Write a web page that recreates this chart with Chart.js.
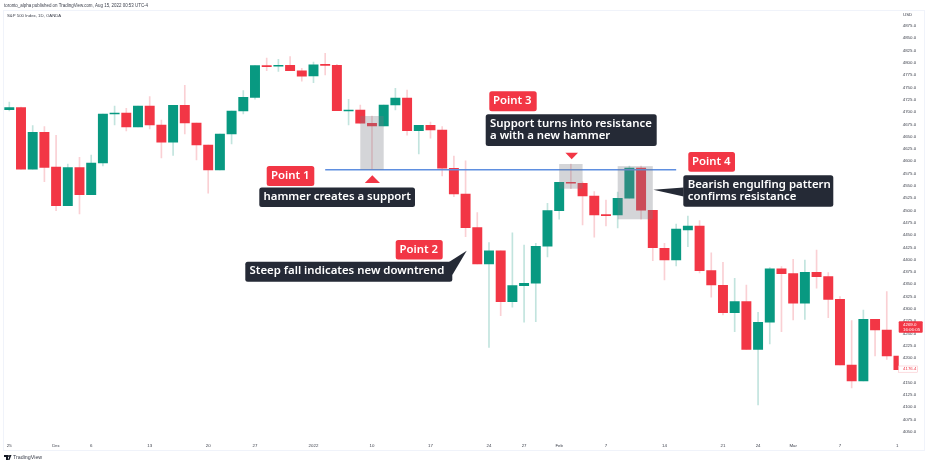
<!DOCTYPE html>
<html>
<head>
<meta charset="utf-8">
<style>
  html, body { margin: 0; padding: 0; background: #fff; }
  #wrap { position: relative; width: 928px; height: 464px; }
</style>
<script src="https://cdn.jsdelivr.net/npm/chart.js@4"></script>
</head>
<body>
<div id="wrap"><canvas id="chart" width="928" height="464"></canvas></div>
<script>
// daily candles, S&P 500
const openPrices = [4704.8, 4708.9, 4583.7, 4658.9, 4588.3, 4509.6, 4586.9, 4532, 4596.5, 4696.1, 4698.1, 4669.7, 4712.4, 4673.7, 4638.6, 4713.8, 4677.8, 4633, 4582.2, 4655.4, 4702.2, 4730, 4794.3, 4793.1, 4795.1, 4784.1, 4773.4, 4797.2, 4795.1, 4702.2, 4704.2, 4677.2, 4671.7, 4714.4, 4728.6, 4662.1, 4673.1, 4663.6, 4585.7, 4533.4, 4464.9, 4391.1, 4418.1, 4314.5, 4347, 4351.9, 4427.1, 4499.5, 4557.2, 4555.2, 4529.4, 4491.3, 4490.7, 4524.7, 4586.3, 4500.3, 4423, 4399.2, 4460.2, 4468.4, 4377.5, 4347.8, 4292.1, 4314.5, 4217.6, 4272.6, 4381.5, 4371.4, 4311.2, 4374.2, 4365.3, 4319.3, 4185.7, 4153.2, 4278.6, 4256.9, 4204];
const highPrices = [4720.5, 4710, 4672.3, 4670.3, 4652.8, 4594.4, 4608, 4612.7, 4696.1, 4712.4, 4707.7, 4712.4, 4731.3, 4683.9, 4713.8, 4754.5, 4677.8, 4633, 4655.4, 4702.2, 4743.5, 4794.3, 4810, 4807.3, 4812.6, 4789, 4801.8, 4819.5, 4797, 4726, 4714.4, 4692, 4714.4, 4748.3, 4744.9, 4673.1, 4679.8, 4670.3, 4610.7, 4601.1, 4495.4, 4434.4, 4418.1, 4454.7, 4429.7, 4433.2, 4514.5, 4557.2, 4594.4, 4558.4, 4538.1, 4521.2, 4537.5, 4590.4, 4590.4, 4500.3, 4433.2, 4472.4, 4488.7, 4479.2, 4414, 4394.6, 4362, 4348.4, 4292.9, 4383.6, 4385.6, 4400.6, 4399.2, 4419.6, 4373.4, 4324.6, 4275.8, 4297.6, 4278.6, 4334.8, 4204];
const lowPrices = [4702.2, 4583.7, 4583.7, 4558.4, 4499.5, 4509.6, 4492.8, 4532, 4590.4, 4673.7, 4661.5, 4669.7, 4665.6, 4606.6, 4612.1, 4655.4, 4602.6, 4534.9, 4582.2, 4635.1, 4696.1, 4726, 4784.1, 4782.9, 4784.1, 4762.6, 4759.7, 4775.4, 4702.8, 4673.7, 4677.2, 4583.7, 4671.7, 4704.2, 4652.8, 4614.8, 4646.7, 4570, 4527.9, 4446.6, 4391.1, 4221.7, 4286, 4303.1, 4272.6, 4273.8, 4405.3, 4482, 4544.2, 4470.4, 4445.4, 4468.4, 4464.3, 4524.7, 4482, 4397.8, 4358.6, 4387, 4426.3, 4372.8, 4323.4, 4287.4, 4253.4, 4217.6, 4104.4, 4228.4, 4253.4, 4277.2, 4278.6, 4341.7, 4281.9, 4185.7, 4139, 4153.2, 4204, 4197.3, 4176.4];
const closePrices = [4708.9, 4583.7, 4658.9, 4587.7, 4509.6, 4586.9, 4532, 4596.5, 4696.1, 4698.1, 4669.7, 4712.4, 4673.7, 4638.6, 4713.8, 4677.8, 4633, 4582.2, 4655.4, 4702.2, 4730, 4794.3, 4792.3, 4795.1, 4784.1, 4772.8, 4796.3, 4795.1, 4702.8, 4704.2, 4677.2, 4671.7, 4714.4, 4728.6, 4662.1, 4673.1, 4663.6, 4585.7, 4533.4, 4464.9, 4391.1, 4418.1, 4314.5, 4347, 4351.9, 4427.1, 4499.5, 4557.2, 4555.2, 4529.4, 4490.7, 4489.3, 4524.7, 4586.3, 4500.3, 4424.2, 4399.2, 4462.3, 4468.4, 4377.5, 4348.4, 4292.1, 4314.5, 4217.6, 4272.6, 4381.5, 4371.4, 4311.2, 4374.2, 4365.3, 4319.3, 4185.7, 4153.2, 4278.6, 4256.9, 4204, 4176.4];

const tickIndices = [0, 4, 7, 12, 17, 21, 26, 31, 36, 41, 44, 47, 51, 56, 61, 64, 67, 71, 75.9];
const tickLabels = ["25", "Dec", "6", "13", "20", "27", "2022", "10", "17", "24", "27", "Feb", "7", "14", "21", "24", "Mar", "7", "1"];

const supportStart = 27;
const supportEnd = 57;
const supportPrice = 4582.8;

// grey highlight zones: first candle, last candle, top price, bottom price
const zoneStarts = [30, 47, 52];
const zoneEnds = [32, 49, 55];
const zoneTops = [4692, 4594.4, 4590];
const zoneBottoms = [4582.8, 4544.2, 4482];

const RED = "#f23645";
const GREEN = "#089981";
const RED_WICK = "#fad0d4";
const GREEN_WICK = "#c2e4de";
const DARK = "#252a36";
const AXIS_TEXT = "#3a3e4a";
const LABEL_FONT = "600 11.4px 'Noto Sans'";

const isUp = openPrices.map((o, i) => closePrices[i] >= o);

function roundBox(ctx, x, y, w, h, r, color) {
  ctx.fillStyle = color;
  ctx.beginPath();
  ctx.roundRect(x, y, w, h, r);
  ctx.fill();
}

function tail(ctx, pts, color) {
  ctx.fillStyle = color;
  ctx.beginPath();
  pts.forEach((p, i) => i ? ctx.lineTo(p[0], p[1]) : ctx.moveTo(p[0], p[1]));
  ctx.closePath();
  ctx.fill();
}

// the text of one balloon, vertically centred on each given y
function balloonText(ctx, lines, x, ys) {
  ctx.font = LABEL_FONT;
  ctx.fillStyle = "#ffffff";
  ctx.textAlign = "left";
  ctx.textBaseline = "middle";
  lines.forEach((t, i) => ctx.fillText(t, x, ys[i]));
}

function smallText(ctx, text, x, y, color, font) {
  ctx.font = font || "4.4px 'Liberation Sans'";
  ctx.fillStyle = color || AXIS_TEXT;
  ctx.textAlign = "left";
  ctx.textBaseline = "middle";
  ctx.fillText(text, x, y);
}

const zonesPlugin = {
  id: "zones",
  afterDatasetsDraw(chart) {
    const { ctx, scales: { x, y } } = chart;
    ctx.save();
    ctx.fillStyle = "rgba(120,123,134,0.32)";
    zoneStarts.forEach((s, i) => {
      const left = x.getPixelForValue(s);
      const right = x.getPixelForValue(zoneEnds[i]);
      const top = y.getPixelForValue(zoneTops[i]);
      const bottom = y.getPixelForValue(zoneBottoms[i]);
      ctx.fillRect(left, top, right - left, bottom - top);
    });
    ctx.restore();
  }
};

const notesPlugin = {
  id: "notes",
  afterDraw(chart) {
    const { ctx } = chart;
    ctx.save();

    // frame
    ctx.strokeStyle = "#f0f3fa";
    ctx.lineWidth = 1;
    ctx.strokeRect(3.5, 10.5, 921, 440);

    // header and footer
    smallText(ctx, "toronto_alpha published on TradingView.com, Aug 15, 2022 00:53 UTC-4", 4, 5.6, AXIS_TEXT, "4.45px 'Liberation Sans'");
    smallText(ctx, "S&P 500 Index, 1D, OANDA", 7, 15.8, AXIS_TEXT, "4.3px 'Liberation Sans'");
    smallText(ctx, "TradingView", 13, 457.5, AXIS_TEXT, "5.3px 'Liberation Sans'");
    tail(ctx, [[4, 455], [8, 455], [8, 460], [6, 460], [6, 457], [4, 457]], "#131722");
    ctx.beginPath();
    ctx.arc(9, 456, 1, 0, Math.PI * 2);
    ctx.fill();
    tail(ctx, [[10, 455], [11.5, 455], [9.5, 460], [8, 460]], "#131722");
    smallText(ctx, "USD", 903, 15, AXIS_TEXT);

    // triangles
    tail(ctx, [[372.3, 175.3], [380, 183], [364.8, 183]], RED);
    tail(ctx, [[565.4, 152.7], [578, 152.7], [571.7, 159.3]], RED);

    // Point 1
    roundBox(ctx, 266.7, 166, 47.6, 20, 2.5, RED);
    balloonText(ctx, ["Point 1"], 271, [175.8]);
    roundBox(ctx, 259.3, 187.5, 155.7, 19.5, 2.5, DARK);
    balloonText(ctx, ["hammer creates a support"], 263.5, [196.8]);

    // Point 2
    roundBox(ctx, 395.7, 240, 47, 19.5, 2.5, RED);
    balloonText(ctx, ["Point 2"], 399.5, [249.5]);
    roundBox(ctx, 245.3, 261.7, 207, 20, 2.5, DARK);
    tail(ctx, [[449, 262], [452.3, 275], [466.7, 250.7]], DARK);
    balloonText(ctx, ["Steep fall indicates new downtrend"], 249.5, [271.2]);

    // Point 3
    roundBox(ctx, 489.3, 91.3, 47.4, 20, 2.5, RED);
    balloonText(ctx, ["Point 3"], 493, [100.8]);
    roundBox(ctx, 485.7, 114.3, 171, 31.7, 2.5, DARK);
    balloonText(ctx, ["Support turns into resistance", "a with a new hammer"], 490, [123.5, 135.8]);

    // Point 4
    roundBox(ctx, 688.3, 152, 46.7, 19.7, 2.5, RED);
    balloonText(ctx, ["Point 4"], 692, [161.5]);
    roundBox(ctx, 683.3, 175.3, 150, 31.4, 2.5, DARK);
    tail(ctx, [[683.6, 187.5], [683.6, 196.5], [653.3, 189.7]], DARK);
    balloonText(ctx, ["Bearish engulfing pattern", "confirms resistance"], 687.7, [184.5, 196.5]);

    // price tags
    roundBox(ctx, 898.7, 321.3, 24, 11.4, 1, RED);
    smallText(ctx, "4269.0", 903, 324.5, "#ffffff");
    smallText(ctx, "16:06:05", 903, 329.8, "#ffffff");
    ctx.fillStyle = "#ffffff";
    ctx.fillRect(898.7, 366, 19, 6.2);
    ctx.strokeStyle = "#f8b8be";
    ctx.lineWidth = 0.5;
    ctx.strokeRect(898.7, 366, 19, 6.2);
    smallText(ctx, "4176.4", 903, 369.2, RED);

    ctx.restore();
  }
};

new Chart(document.getElementById("chart"), {
  data: {
    datasets: [
      {
        type: "bar",
        label: "Wicks",
        data: lowPrices.map((l, i) => ({ x: i, y: [l, highPrices[i]] })),
        backgroundColor: isUp.map(u => u ? GREEN_WICK : RED_WICK),
        barThickness: 1,
        grouped: false,
        order: 3
      },
      {
        type: "bar",
        label: "Bodies",
        data: openPrices.map((o, i) => ({ x: i, y: [o, closePrices[i]] })),
        backgroundColor: isUp.map(u => u ? GREEN : RED),
        barThickness: 9.3,
        minBarLength: 1,
        grouped: false,
        order: 2
      },
      {
        type: "line",
        label: "Support",
        data: [{ x: supportStart, y: supportPrice }, { x: supportEnd, y: supportPrice }],
        borderColor: "#5f8fe0",
        borderWidth: 1.5,
        pointRadius: 0,
        order: 1
      }
    ]
  },
  options: {
    responsive: false,
    animation: false,
    devicePixelRatio: 1,
    layout: { padding: { left: 3.45, top: 11, right: 0, bottom: 0 } },
    plugins: {
      legend: { display: false },
      tooltip: { enabled: false },
      title: { display: false }
    },
    scales: {
      x: {
        type: "linear",
        offset: false,
        min: -0.5,
        max: 76.02,
        grid: { display: false, offset: false, drawTicks: false },
        border: { display: false },
        afterBuildTicks(scale) {
          scale.ticks = tickIndices.map(v => ({ value: v }));
        },
        afterFit(scale) {
          scale.height = 26;
        },
        ticks: {
          autoSkip: false,
          maxRotation: 0,
          padding: 5.5,
          font: { family: "Liberation Sans", size: 4.4 },
          color: AXIS_TEXT,
          callback: v => tickLabels[tickIndices.indexOf(v)]
        }
      },
      y: {
        position: "right",
        min: 4037.3,
        max: 4905.5,
        grid: { display: false, drawTicks: false },
        border: { display: false },
        afterBuildTicks(scale) {
          scale.ticks = scale.ticks.filter(t => t.value <= 4875);
        },
        afterFit(scale) {
          scale.width = 29.3;
        },
        ticks: {
          stepSize: 25,
          includeBounds: false,
          autoSkip: false,
          padding: 4,
          font: { family: "Liberation Sans", size: 4.4 },
          color: AXIS_TEXT,
          callback: v => v.toFixed(1)
        }
      }
    }
  },
  plugins: [zonesPlugin, notesPlugin]
});
</script>
</body>
</html>
